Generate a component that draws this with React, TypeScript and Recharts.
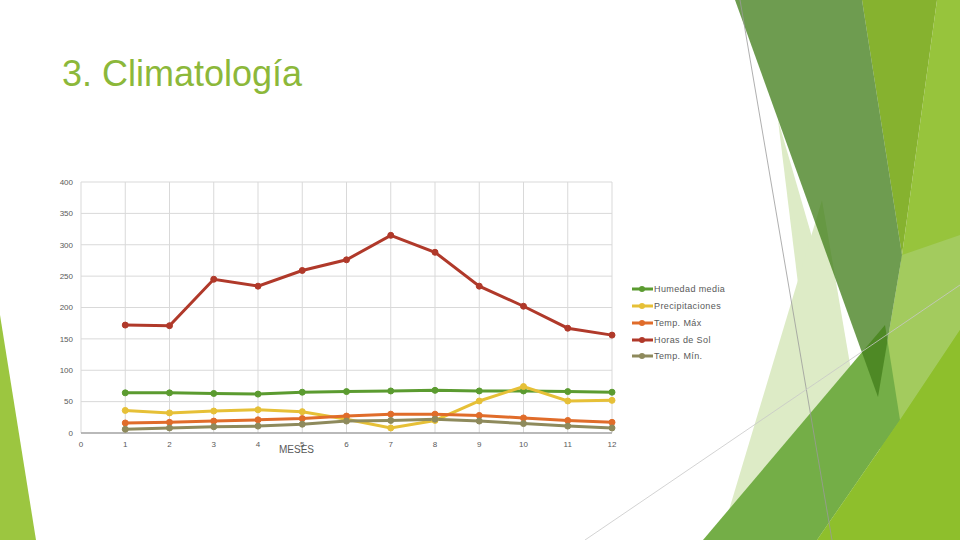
import React from 'react';
import { LineChart, Line, XAxis, YAxis, CartesianGrid, Legend, Label } from 'recharts';

const meses = [1, 2, 3, 4, 5, 6, 7, 8, 9, 10, 11, 12];
const humedadMedia = [64, 64, 63, 62, 65, 66, 67, 68, 67, 67, 66, 65];
const precipitaciones = [36, 32, 35, 37, 34, 22, 8, 20, 51, 74, 51, 52];
const tempMax = [16, 17, 19, 21, 23, 27, 30, 30, 28, 24, 20, 17];
const horasSol = [172, 171, 245, 234, 259, 276, 315, 288, 234, 202, 167, 156];
const tempMin = [6, 8, 10, 11, 14, 19, 20, 22, 19, 15, 11, 8];
const xTicks = [0, 1, 2, 3, 4, 5, 6, 7, 8, 9, 10, 11, 12];
const yTicks = [0, 50, 100, 150, 200, 250, 300, 350, 400];

const series = [
  { key: 'humedad', name: 'Humedad media', color: '#5B9B30', values: humedadMedia },
  { key: 'precip', name: 'Precipitaciones', color: '#E6C037', values: precipitaciones },
  { key: 'tmax', name: 'Temp. Máx', color: '#E06C2A', values: tempMax },
  { key: 'sol', name: 'Horas de Sol', color: '#B0392A', values: horasSol },
  { key: 'tmin', name: 'Temp. Mín.', color: '#8E8A5C', values: tempMin },
];

const data = meses.map((m, i) => {
  const row: any = { mes: m };
  series.forEach((s) => (row[s.key] = s.values[i]));
  return row;
});

const FONT = '"Liberation Sans", Arial, sans-serif';

const LegendContent = () => (
  <div style={{ fontFamily: FONT, fontSize: 9, color: '#595959', letterSpacing: 0.4 }}>
    {series.map((s) => (
      <div key={s.key} style={{ display: 'flex', alignItems: 'center', height: 16.75 }}>
        <svg width={21} height={8} style={{ display: 'block' }}>
          <line x1={0} y1={4} x2={21} y2={4} stroke={s.color} strokeWidth={3} />
          <circle cx={10} cy={4} r={3} fill={s.color} />
        </svg>
        <span style={{ marginLeft: 1, whiteSpace: 'nowrap' }}>{s.name}</span>
      </div>
    ))}
  </div>
);

const Background = () => (
  <svg width={960} height={540} style={{ position: 'absolute', left: 0, top: 0 }}>
    <polygon points="0,315 36,540 0,540" fill="#9CC640" />
    <polygon points="778,120 800,300 840,540 900,540" fill="#DDEBC6" />
    <polygon points="720,540 822,200 880,540" fill="#DDEBC6" />
    <polygon points="937,0 960,0 960,540 870,540 902,255" fill="#97C43C" />
    <polygon points="862,0 937,0 902,255" fill="#86B22F" />
    <polygon points="878,397 902,255 960,235 960,330 900,420" fill="#A3CB5E" />
    <polygon points="703,540 885,325 900,420 817,540" fill="#74AE47" />
    <polygon points="817,540 900,420 960,330 960,540" fill="#8EBF2C" />
    <polygon points="735,0 862,0 902,255 878,397" fill="#427E1B" fillOpacity={0.77} />
    <line x1={740} y1={0} x2={832} y2={540} stroke="#9A9A9A" strokeWidth={0.8} />
    <line x1={585} y1={540} x2={960} y2={285} stroke="#C8C8C8" strokeWidth={0.8} />
  </svg>
);

export default function App() {
  return (
    <div style={{ position: 'fixed', left: 0, top: 0, width: 960, height: 540, background: '#fff', overflow: 'hidden' }}>
      <Background />
      <div
        style={{
          position: 'absolute',
          left: 62,
          top: 52,
          fontFamily: FONT,
          fontSize: 36,
          color: '#8CB83A',
          lineHeight: '44px',
          whiteSpace: 'nowrap',
        }}
      >
        3. Climatología
      </div>
      <div style={{ position: 'absolute', left: 0, top: 0 }}>
        <LineChart
          width={960}
          height={540}
          data={data}
          margin={{ top: 182, right: 188, bottom: 87, left: 41 }}
        >
          <CartesianGrid stroke="#D9D9D9" strokeWidth={1} />
          <XAxis
            type="number"
            dataKey="mes"
            domain={[0, 12]}
            ticks={xTicks}
            interval={0}
            height={20}
            tickLine={false}
            axisLine={{ stroke: '#868686', strokeWidth: 1 }}
            tick={{ fontSize: 8, fill: '#595959', fontFamily: FONT }}
          >
            <Label
              value="MESES"
              position="insideBottom"
              offset={0}
              dx={-50}
              style={{ fontSize: 10, fill: '#595959', fontFamily: FONT }}
            />
          </XAxis>
          <YAxis
            type="number"
            domain={[0, 400]}
            ticks={yTicks}
            interval={0}
            width={40}
            tickLine={false}
            axisLine={false}
            tick={{ fontSize: 8, fill: '#595959', fontFamily: FONT }}
          />
          <Legend
            layout="horizontal"
            verticalAlign="middle"
            align="right"
            content={<LegendContent />}
            wrapperStyle={{ position: 'absolute', left: 632, top: 281, width: 160, height: 90 }}
          />
          {series.map((s) => (
            <Line
              key={s.key}
              type="linear"
              dataKey={s.key}
              name={s.name}
              stroke={s.color}
              strokeWidth={3}
              dot={{ r: 3, fill: s.color, stroke: s.color, strokeWidth: 1 }}
              activeDot={false}
              isAnimationActive={false}
            />
          ))}
        </LineChart>
      </div>
    </div>
  );
}
